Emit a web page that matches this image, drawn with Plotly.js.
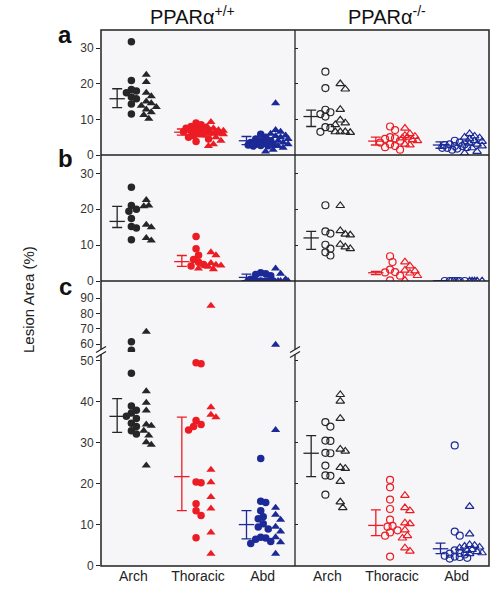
<!DOCTYPE html>
<html><head><meta charset="utf-8">
<script src="https://cdn.plot.ly/plotly-3.0.1.min.js"></script>
<style>body{margin:0;background:#fff}#chart{width:496px;height:591px}</style>
</head><body><div id="chart"></div>
<script>
// ---------------- DATA ----------------
const categories = ['Arch', 'Thoracic', 'Abd'];
const genotypeLabels = ['PPARα<sup>+/+</sup>', 'PPARα<sup>-/-</sup>'];
const panelLetters = ['a', 'b', 'c'];
const yTitle = 'Lesion Area (%)';
const yTicksAB = [0, 10, 20, 30];
const yTicksCLow = [0, 10, 20, 30, 40, 50];
const yTicksCHigh = [60, 70, 80, 90];

// Panel a, PPARα+/+  [Arch, Thoracic, Abd]
const a_wt_circles = [
  [31.8, 20.9, 18.4, 18.0, 17.5, 16.3, 15.8, 14.3, 11.5],
  [9.0, 8.5, 8.0, 7.8, 7.5, 7.3, 7.0, 7.0, 6.8, 6.5, 6.2, 6.0, 5.5, 5.0, 4.5, 3.8],
  [5.8, 5.0, 4.5, 4.0, 3.8, 3.5, 3.2, 3.0, 3.0, 2.8, 2.7, 2.6, 2.5]
];
const a_wt_triangles = [
  [22.5, 20.5, 17.5, 16.5, 15.0, 14.5, 13.8, 13.5, 12.8, 12.0, 11.2, 10.2],
  [9.3, 7.5, 7.0, 6.8, 6.5, 6.3, 6.2, 6.0, 6.0, 6.0, 5.8, 5.5, 5.0, 4.0, 3.0, 2.5],
  [14.5, 7.0, 6.5, 6.0, 5.5, 5.3, 5.0, 4.5, 4.0, 3.5, 3.0, 2.5, 2.0, 1.5, 1.0]
];
const a_wt_mean = [15.8, 6.4, 4.0];
const a_wt_upper = [18.6, 7.3, 5.2];
const a_wt_lower = [13.3, 5.6, 2.9];

// Panel a, PPARα-/-
const a_ko_circles = [
  [23.4, 18.8, 12.7, 12.0, 11.5, 10.8, 7.8, 7.6, 6.5],
  [8.0, 7.0, 5.0, 4.7, 4.5, 4.0, 3.5, 3.0, 2.5, 2.2, 1.5],
  [4.0, 3.5, 3.0, 3.0, 2.8, 2.5, 2.5, 2.2, 2.0, 2.0, 1.8, 1.5]
];
const a_ko_triangles = [
  [20.0, 18.5, 12.8, 9.8, 9.0, 8.5, 6.5, 6.5, 6.5, 6.3],
  [7.5, 6.0, 5.5, 5.2, 5.0, 4.8, 4.3, 4.0, 3.0, 2.8],
  [6.0, 5.3, 5.0, 4.8, 4.5, 4.0, 3.8, 3.3, 3.0, 2.5, 2.0, 1.0, 0.5]
];
const a_ko_mean = [10.8, 3.9, 2.8];
const a_ko_upper = [12.6, 5.0, 3.7];
const a_ko_lower = [8.0, 2.8, 1.9];

// Panel b, PPARα+/+
const b_wt_circles = [
  [26.1, 21.0, 20.0, 19.4, 17.4, 15.2, 14.8, 11.5],
  [12.4, 9.0, 7.2, 6.0, 5.2, 4.6, 4.2],
  [2.3, 2.0, 1.8, 1.5, 0.5, 0, 0, 0, 0, 0]
];
const b_wt_triangles = [
  [22.6, 21.0, 20.8, 15.7, 15.0, 12.0, 11.3],
  [8.0, 7.2, 5.0, 4.5, 4.3, 4.0, 3.5, 3.3],
  [3.5, 2.0, 0.5, 0, 0, 0, 0]
];
const b_wt_mean = [16.6, 5.4, 1.0];
const b_wt_upper = [20.8, 7.1, 1.9];
const b_wt_lower = [14.9, 4.1, 0.1];

// Panel b, PPARα-/-
const b_ko_circles = [
  [21.1, 13.8, 13.2, 10.1, 9.0, 8.0, 7.1],
  [6.9, 5.3, 3.2, 2.5, 2.4, 1.5, 0.2],
  [0, 0, 0, 0, 0, 0, 0]
];
const b_ko_triangles = [
  [21.0, 14.0, 13.0, 12.8, 10.2, 9.5, 9.0],
  [5.3, 4.2, 3.0, 2.8, 2.2, 1.5, 0.2],
  [0, 0, 0, 0, 0]
];
const b_ko_mean = [12.0, 2.3, 0.05];
const b_ko_upper = [13.8, 2.7, 0.1];
const b_ko_lower = [8.8, 1.8, 0.0];

// Panel c, PPARα+/+
const c_wt_circles = [
  [61.5, 56, 47, 39, 38, 37.3, 36.5, 36, 34.8, 34, 33, 32.2],
  [49.6, 49.3, 35.5, 34.5, 34.0, 33.2, 20.5, 20.3, 15.2, 13.5, 12.3, 6.9],
  [26.2, 15.8, 15.5, 13.5, 12.0, 11.5, 10.3, 9.5, 9.0, 7.0, 6.8, 6.5, 6.0, 5.5]
];
const c_wt_triangles = [
  [68, 42.6, 39.8, 37.9, 34.5, 34.2, 33.0, 31.8, 30.2, 29.6, 24.5],
  [85, 38.7, 36.9, 36.3, 23.5, 20.4, 16.8, 14.0, 8.2, 3.0],
  [59.5, 33.2, 14.2, 12.5, 11.3, 9.6, 8.4, 7.0, 5.8, 3.0]
];
const c_wt_mean = [36.5, 21.8, 10.1];
const c_wt_upper = [40.8, 36.3, 13.5];
const c_wt_lower = [32.6, 13.5, 6.6];

// Panel c, PPARα-/-
const c_ko_circles = [
  [35.1, 34.0, 30.6, 30.5, 27.6, 27.5, 24.5, 22.1, 22.0, 17.4],
  [21.0, 19.2, 16.2, 13.9, 11.3, 9.8, 9.6, 8.7, 8.2, 7.4, 2.3],
  [29.4, 8.4, 7.4, 3.8, 3.2, 3.0, 2.8, 2.5, 2.3, 2.2, 2.0, 1.8]
];
const c_ko_triangles = [
  [41.8, 40.2, 36.0, 28.5, 28.0, 24.0, 23.8, 20.6, 15.6, 14.2],
  [17.2, 14.2, 13.5, 10.5, 10.3, 8.8, 7.4, 6.8, 4.4, 3.6],
  [14.5, 7.8, 5.2, 5.0, 4.8, 4.6, 4.4, 4.0, 3.8, 3.5, 3.2, 3.0]
];
const c_ko_mean = [27.5, 9.9, 4.2];
const c_ko_upper = [31.8, 13.7, 5.6];
const c_ko_lower = [21.8, 7.4, 3.0];

// ---------------- LAYOUT GEOMETRY ----------------
const W = 496, H = 591, M = {l: 101, r: 7, t: 30, b: 25};
const PW = W - M.l - M.r, PH = H - M.t - M.b;
const XR = [-0.5, 2.5];
const pxPerX = PW * 0.5 / (XR[1] - XR[0]);
const CBREAK = 53.5;
const AX = {
  a:  {dom: [0.7668, 1], rng: [0, 35.1], ticks: yTicksAB, left: 'y', right: 'y5'},
  b:  {dom: [0.5317, 0.7668], rng: [0, 35.1], ticks: yTicksAB, left: 'y2', right: 'y6'},
  cl: {dom: [0, 0.3993], rng: [0, 52.2], ticks: yTicksCLow, left: 'y3', right: 'y7'},
  ch: {dom: [0.3993, 0.5317], rng: [54.8, 101.2], ticks: yTicksCHigh, left: 'y4', right: 'y8'}
};
function yPix(ax, v) {
  const d = AX[ax].dom, r = AX[ax].rng;
  return M.t + PH * (1 - (d[0] + (v - r[0]) / (r[1] - r[0]) * (d[1] - d[0])));
}
const colors = ['#262626', '#ec1c24', '#1b2a96'];
const OFF_ERR = -0.25, OFF_CIRC = -0.03, OFF_TRI = 0.2;
const STEP = 2.5, CX = 5, CY = 6.5, MAXS = 13;

function swarm(groups) {
  const placed = [];
  return groups.map(g => {
    const xs = new Array(g.vals.length);
    const order = g.vals.map((v, i) => i).sort((p, q) => g.vals[q] - g.vals[p]);
    order.forEach(i => {
      const v = g.vals[i];
      const py = yPix(g.axOf(v), v);
      const c = g.center * pxPerX;
      let best = c, bestD = -1;
      for (let k = 0; k < 200; k++) {
        const s = k === 0 ? 0 : (k % 2 ? Math.ceil(k / 2) : -Math.ceil(k / 2));
        if (Math.abs(s * STEP) > MAXS) break;
        const px = c + s * STEP;
        let d = Infinity;
        placed.forEach(p => { d = Math.min(d, Math.sqrt(((p[0] - px) / CX) ** 2 + ((p[1] - py) / CY) ** 2)); });
        if (d >= 1) { best = px; bestD = d; break; }
        if (d > bestD + 1e-9) { bestD = d; best = px; }
      }
      placed.push([best, py]); xs[i] = best / pxPerX;
    });
    return xs;
  });
}

const panelData = {
  a: [[a_wt_circles, a_wt_triangles, a_wt_mean, a_wt_upper, a_wt_lower],
      [a_ko_circles, a_ko_triangles, a_ko_mean, a_ko_upper, a_ko_lower]],
  b: [[b_wt_circles, b_wt_triangles, b_wt_mean, b_wt_upper, b_wt_lower],
      [b_ko_circles, b_ko_triangles, b_ko_mean, b_ko_upper, b_ko_lower]],
  c: [[c_wt_circles, c_wt_triangles, c_wt_mean, c_wt_upper, c_wt_lower],
      [c_ko_circles, c_ko_triangles, c_ko_mean, c_ko_upper, c_ko_lower]]
};

const traces = [];
['a', 'b', 'c'].forEach(p => {
  const axOf = p === 'c' ? (v => v > CBREAK ? 'ch' : 'cl') : (() => p);
  [0, 1].forEach(g => {
    const [circ, tri, mean, up, lo] = panelData[p][g];
    const xa = g === 0 ? 'x' : 'x2';
    const side = g === 0 ? 'left' : 'right';
    categories.forEach((cat, i) => {
      const col = colors[i];
      const [xc, xt] = swarm([
        {vals: circ[i], center: i + OFF_CIRC, axOf},
        {vals: tri[i], center: i + OFF_TRI, axOf}
      ]);
      [[circ[i], xc, 'circle', 7.5], [tri[i], xt, 'triangle-up', 8]].forEach(([vals, xs, sym, sz]) => {
        const byAx = {};
        vals.forEach((v, j) => {
          const a = axOf(v);
          (byAx[a] = byAx[a] || {x: [], y: []});
          byAx[a].x.push(xs[j]); byAx[a].y.push(v);
        });
        Object.keys(byAx).forEach(a => {
          traces.push({
            type: 'scatter', mode: 'markers', xaxis: xa, yaxis: AX[a][side],
            x: byAx[a].x, y: byAx[a].y, hoverinfo: 'y', showlegend: false,
            marker: {symbol: g === 0 ? sym : sym + '-open', size: g === 0 ? sz : sz - 0.5, color: col,
                     line: {width: g === 0 ? 0 : 1.2, color: col}}
          });
        });
      });
      const ea = p === 'c' ? 'cl' : p;
      traces.push({
        type: 'scatter', mode: 'markers', xaxis: xa, yaxis: AX[ea][side],
        x: [i + OFF_ERR], y: [mean[i]], showlegend: false, hoverinfo: 'y',
        marker: {symbol: 'line-ew-open', size: 11, color: col, line: {width: 1.3, color: col}},
        error_y: {type: 'data', symmetric: false, array: [up[i] - mean[i]], arrayminus: [mean[i] - lo[i]],
                  color: col, thickness: 1.3, width: 5}
      });
    });
  });
});

// ---------------- AXES ----------------
const FONT = 'Liberation Sans, Arial, Helvetica, sans-serif';
const layout = {
  width: W, height: H, margin: M, paper_bgcolor: '#ffffff', plot_bgcolor: 'rgba(0,0,0,0)',
  font: {family: FONT, color: '#222'}, showlegend: false,
  xaxis: {domain: [0, 0.5], range: XR, anchor: 'y3', tickvals: [0, 1, 2], ticktext: categories,
          ticks: '', showline: false, zeroline: false, showgrid: false, tickfont: {size: 14, color: '#222'}},
  xaxis2: {domain: [0.5, 1], range: XR, anchor: 'y7', tickvals: [0, 1, 2], ticktext: categories,
          ticks: '', showline: false, zeroline: false, showgrid: false, tickfont: {size: 14, color: '#222'}},
  shapes: [], annotations: []
};
Object.keys(AX).forEach(k => {
  const A = AX[k];
  const common = {domain: A.dom, range: A.rng, tickvals: A.ticks, showline: false, zeroline: false, showgrid: false};
  layout['yaxis' + (A.left === 'y' ? '' : A.left.slice(1))] = Object.assign({}, common, {
    anchor: 'x', ticks: 'outside', ticklen: 4, tickwidth: 1.2, tickcolor: '#222',
    tickfont: {size: 12, color: '#333'}
  });
  layout['yaxis' + A.right.slice(1)] = Object.assign({}, common, {
    anchor: 'x2', ticks: 'inside', ticklen: 3, tickwidth: 1.2, tickcolor: '#222', showticklabels: false
  });
});

// background, frame and dividers
const S = layout.shapes;
S.push({type: 'rect', xref: 'paper', yref: 'paper', x0: 0, x1: 1, y0: 0, y1: 1, layer: 'below',
        fillcolor: '#f6f6f8', line: {width: 0}});
S.push({type: 'rect', xref: 'paper', yref: 'paper', x0: 0, x1: 1, y0: 0, y1: 1,
        line: {color: '#222', width: 1.5}});
[AX.a.dom[0], AX.b.dom[0]].forEach(y => S.push({type: 'line', xref: 'paper', yref: 'paper', x0: 0, x1: 1, y0: y, y1: y,
        line: {color: '#222', width: 1.3}}));
S.push({type: 'line', xref: 'paper', yref: 'paper', x0: 0.5, x1: 0.5, y0: 0, y1: 1, line: {color: '#222', width: 1.3}});
// axis-break marks
const bx = 5 / PW, by = 1 / PH;
[0, 0.5].forEach(x => {
  const y = AX.cl.dom[1];
  S.push({type: 'rect', xref: 'paper', yref: 'paper', x0: x - 1.5 / PW, x1: x + 1.5 / PW, y0: y - 2.5 * by, y1: y + 2.5 * by,
          fillcolor: x === 0 ? '#ffffff' : '#f6f6f8', line: {width: 0}});
  [-2.5, 2.5].forEach(d => S.push({type: 'line', xref: 'paper', yref: 'paper',
          x0: x - bx, x1: x + bx, y0: y + (d - 3) * by, y1: y + (d + 3) * by, line: {color: '#222', width: 1.2}}));
});

// titles and letters
const A = layout.annotations;
genotypeLabels.forEach((t, g) => A.push({text: t, xref: 'paper', yref: 'paper', x: g === 0 ? 0.237 : 0.737,
  y: (PH + M.t - 16) / PH, xanchor: 'center', yanchor: 'middle', showarrow: false,
  font: {size: 20, color: '#111', family: FONT}}));
const letterY = [34, 158, 286];
panelLetters.forEach((t, i) => A.push({text: '<b>' + t + '</b>', xref: 'paper', yref: 'paper',
  x: (65 - M.l) / PW, y: (PH + M.t - letterY[i]) / PH, xanchor: 'center', yanchor: 'middle', showarrow: false,
  font: {size: 24, color: '#111', family: FONT}}));
A.push({text: yTitle, xref: 'paper', yref: 'paper', x: (28 - M.l) / PW, y: (PH + M.t - 300) / PH,
  textangle: -90, xanchor: 'center', yanchor: 'middle', showarrow: false,
  font: {size: 15, color: '#222', family: FONT}});

Plotly.newPlot('chart', traces, layout, {displayModeBar: false, responsive: false});
</script></body></html>
